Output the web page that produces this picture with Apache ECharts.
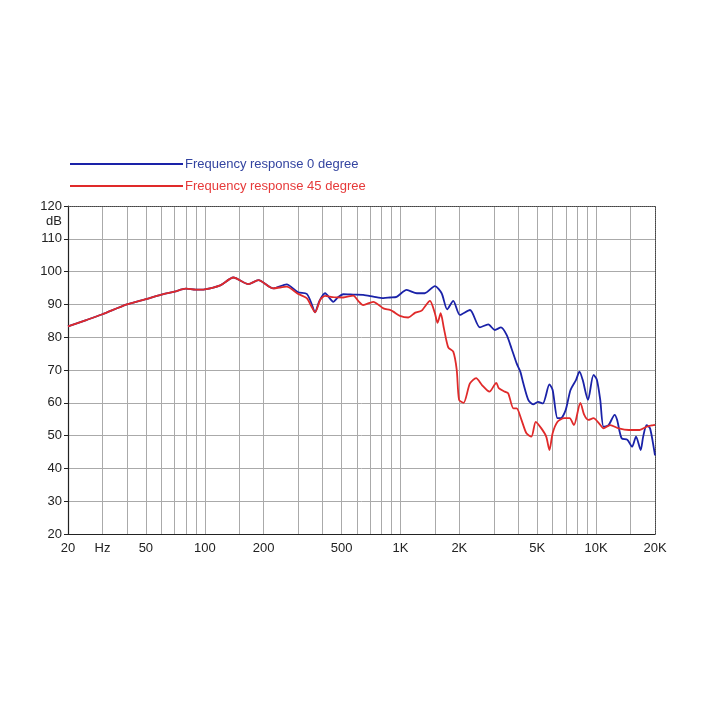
<!DOCTYPE html>
<html>
<head>
<meta charset="utf-8">
<script src="https://cdn.jsdelivr.net/npm/echarts@6/dist/echarts.min.js"></script>
<style>html,body{margin:0;padding:0;background:#fff}#c{width:710px;height:710px}</style>
</head>
<body>
<div id="c"></div>
<script>
// Frequency (Hz) and level (dB) for 0 degree
var freq0 = [20,25,30,40,50,60,70,80,90,100,120,140,167,188,224,262,300,332,350,366,385,412,454,480,510,574,645,726,818,884,956,1076,1214,1330,1500,1624,1734,1862,2014,2266,2548,2811,3036,3264,3489,3700,3926,4098,4243,4502,4765,5045,5341,5776,5996,6350,6600,6990,7400,7900,8220,8540,9090,9700,10090,10500,10920,11580,12440,12800,13500,14460,15260,16000,16900,17400,18120,18870,19800,20000];
var db0 = [83.3,85.3,87.0,90.0,91.6,93.0,93.9,94.8,94.5,94.6,95.8,98.2,96.2,97.4,94.9,96.1,93.7,93.2,90.5,87.6,91.0,93.4,90.8,92.2,93.1,93.0,92.9,92.4,91.9,92.1,92.3,94.4,93.4,93.4,95.6,93.4,88.5,91.1,86.8,88.3,83.0,83.9,82.2,83.0,80.7,76.5,72.0,69.5,66.0,60.9,59.5,60.3,59.8,65.6,63.9,55.3,55.3,57.8,63.9,67.0,69.5,67.0,60.9,68.5,67.0,60.9,52.7,53.2,56.3,54.8,49.2,48.7,46.6,49.7,45.6,49.7,53.2,52.2,45.6,44.0];
// Frequency (Hz) and level (dB) for 45 degree
var freq45 = [20,25,30,40,50,60,70,80,90,100,120,140,167,188,224,262,300,332,350,366,390,412,454,510,574,610,645,726,818,884,919,994,1097,1191,1283,1415,1500,1548,1606,1668,1755,1862,1940,1994,2102,2266,2437,2610,2850,3090,3180,3415,3555,3780,3926,4155,4405,4670,4915,5250,5560,5776,5996,6350,6860,7320,7700,8310,8700,9130,9700,10330,10920,11800,13060,14710,16700,18120,19600,20000];
var db45 = [83.3,85.3,87.0,90.0,91.6,93.0,93.9,94.8,94.5,94.6,95.8,98.2,96.2,97.4,94.9,95.4,93.2,91.9,89.5,87.6,91.5,92.6,92.2,92.1,92.7,91.0,89.8,90.8,88.8,88.3,87.8,86.5,86.0,87.5,88.1,91.1,87.3,84.4,87.3,82.7,76.9,75.6,70.0,60.9,60.0,65.9,67.5,65.4,63.4,66.1,64.5,63.4,62.9,58.3,58.3,54.8,50.7,49.7,54.2,52.2,49.7,45.6,50.7,54.2,55.3,55.3,53.2,60.0,56.3,54.8,55.3,53.8,52.2,53.2,52.2,51.7,51.7,52.7,53.2,53.3];
// Axis ticks
var xGridValues = [20,30,40,50,60,70,80,90,100,150,200,300,400,500,600,700,800,900,1000,1500,2000,3000,4000,5000,6000,7000,8000,9000,10000,15000,20000];
var xLabelValues = [20,30,50,100,200,500,1000,2000,5000,10000,20000];
var xLabelTexts = ['20','Hz','50','100','200','500','1K','2K','5K','10K','20K'];
var seriesNames = ['Frequency response 0 degree','Frequency response 45 degree'];

function zip(a,b){var r=[];for(var i=0;i<a.length;i++)r.push([a[i],b[i]]);return r;}
var labelMap = {};
xLabelValues.forEach(function(v,i){labelMap[v]=xLabelTexts[i];});

var FONT = '"Liberation Sans", Arial, sans-serif';
var chart = echarts.init(document.getElementById('c'), null, {renderer:'canvas'});
chart.setOption({
  backgroundColor:'#fff',
  animation:false,
  textStyle:{fontFamily:FONT},
  legend:{
    show:true, orient:'vertical', left:70, top:157, itemGap:8, padding:0,
    icon:'rect', itemWidth:113, itemHeight:2,
    textStyle:{fontFamily:FONT, fontSize:13, lineHeight:14, padding:[0,0,0,-3]},
    data:[
      {name:seriesNames[0], textStyle:{color:'#3344a0'}},
      {name:seriesNames[1], textStyle:{color:'#e63a3a'}}
    ]
  },
  grid:{left:68, right:55, top:206, bottom:176, containLabel:false},
  xAxis:[{
    type:'log', logBase:10, min:20, max:20000, position:'bottom',
    axisLine:{show:true, onZero:false, lineStyle:{color:'#222', width:1.2}},
    axisTick:{show:false, customValues:xGridValues},
    splitLine:{show:true, lineStyle:{color:'#aaa', width:1}},
    minorSplitLine:{show:false},
    axisLabel:{show:true, customValues:xLabelValues, color:'#222', fontSize:13, margin:8, hideOverlap:false,
      formatter:function(v){return labelMap[Math.round(v)]||'';}}
  },{
    type:'log', logBase:10, min:20, max:20000, position:'top',
    axisLine:{show:true, onZero:false, lineStyle:{color:'#444', width:1, type:'dotted'}},
    axisTick:{show:false}, axisLabel:{show:false}, splitLine:{show:false}
  }],
  yAxis:[{
    type:'value', min:20, max:120, interval:10, position:'left',
    axisLine:{show:true, onZero:false, lineStyle:{color:'#222', width:1.2}},
    axisTick:{show:true, length:4, lineStyle:{color:'#222'}},
    splitLine:{show:true, lineStyle:{color:'#aaa', width:1}},
    axisLabel:{color:'#222', fontSize:13, margin:6}
  },{
    type:'value', min:20, max:120, interval:10, position:'right',
    axisLine:{show:true, onZero:false, lineStyle:{color:'#444', width:1, type:'dotted'}},
    axisTick:{show:false}, axisLabel:{show:false}, splitLine:{show:false}
  }],
  graphic:[{type:'text', left:46, top:215, style:{text:'dB', font:'13px '+FONT, fill:'#222'}}],
  series:[
    {name:seriesNames[0], type:'line', xAxisIndex:0, yAxisIndex:0, data:zip(freq0,db0), showSymbol:false, smooth:0.25,
     lineStyle:{color:'#1a22a8', width:1.8}, itemStyle:{color:'#1a22a8'}, z:2},
    {name:seriesNames[1], type:'line', xAxisIndex:0, yAxisIndex:0, data:zip(freq45,db45), showSymbol:false, smooth:0.25,
     lineStyle:{color:'#e02a2a', width:1.8}, itemStyle:{color:'#e02a2a'}, z:3}
  ]
});
</script>
</body>
</html>
